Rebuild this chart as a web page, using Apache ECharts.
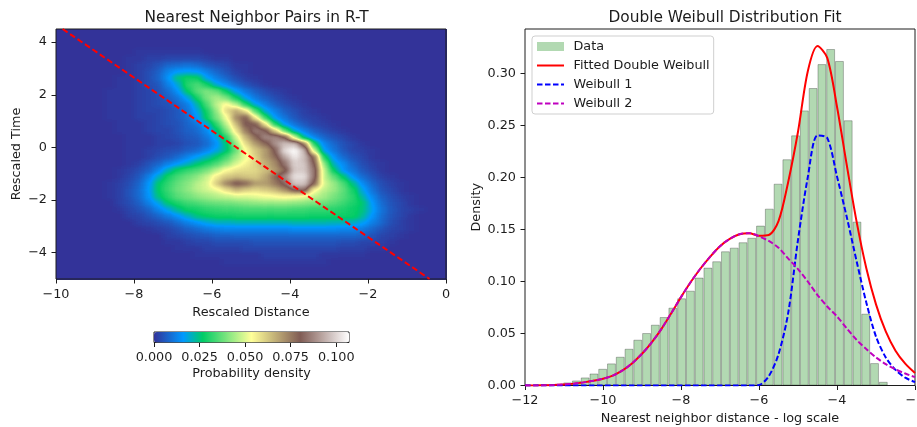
<!DOCTYPE html>
<html><head><meta charset="utf-8">
<style>
html,body{margin:0;padding:0;background:#fff;width:917px;height:427px;overflow:hidden}
#heatClip{position:absolute;left:56px;top:29px;width:391px;height:251px;overflow:hidden;z-index:1}
#heat{position:absolute;left:-14px;top:-14px;width:418px;height:278px;filter:url(#terrain)}
#main{position:absolute;left:0;top:0;width:917px;height:427px;z-index:2}
</style>
<script src="https://cdn.jsdelivr.net/npm/echarts@6/dist/echarts.min.js"></script>
</head><body>
<svg width="0" height="0" style="position:absolute">
  <filter id="terrain" color-interpolation-filters="sRGB" x="0" y="0" width="100%" height="100%">
    <feGaussianBlur stdDeviation="3.2 2.2"/>
    <feComponentTransfer>
      <feFuncR type="table" tableValues=".2 .133 .067 0 0 0 .2 .4 .6 .8 1 .9 .8 .7 .6 .5 .6 .7 .8 .9 1"/>
      <feFuncG type="table" tableValues=".2 .333 .467 .6 .7 .8 .84 .88 .92 .96 1 .872 .744 .616 .488 .36 .488 .616 .744 .872 1"/>
      <feFuncB type="table" tableValues=".6 .733 .867 1 .7 .4 .44 .48 .52 .56 .6 .546 .492 .438 .384 .33 .464 .598 .732 .866 1"/>
    </feComponentTransfer>
  </filter>
</svg>
<div id="heatClip"><div id="heat"></div></div>
<div id="main"></div>
<script>
// ---------- left panel: density (thousandths), top row first
const distanceCenters = [-9.875,-9.625,-9.375,-9.125,-8.875,-8.625,-8.375,-8.125,-7.875,-7.625,-7.375,-7.125,-6.875,-6.625,-6.375,-6.125,-5.875,-5.625,-5.375,-5.125,-4.875,-4.625,-4.375,-4.125,-3.875,-3.625,-3.375,-3.125,-2.875,-2.625,-2.375,-2.125,-1.875,-1.625,-1.375,-1.125,-0.875,-0.625,-0.375,-0.125];
const timeCenters = [4.375,4.125,3.875,3.625,3.375,3.125,2.875,2.625,2.375,2.125,1.875,1.625,1.375,1.125,0.875,0.625,0.375,0.125,-0.125,-0.375,-0.625,-0.875,-1.125,-1.375,-1.625,-1.875,-2.125,-2.375,-2.625,-2.875,-3.125,-3.375,-3.625,-3.875,-4.125,-4.375,-4.625,-4.875];
const densityRows = [
[0,0,0,0,0,0,0,0,0,0,0,0,0,0,0,0,0,0,0,0,0,0,0,0,0,0,0,0,0,0,0,0,0,0,0,0,0,0,0,0],
[0,0,0,0,0,0,0,0,0,0,0,0,0,0,0,0,0,0,0,0,0,0,0,0,0,0,0,0,0,0,0,0,0,0,0,0,0,0,0,0],
[0,0,0,0,0,0,0,0,0,0,0,0,0,0,0,0,0,0,0,0,0,0,0,0,0,0,0,0,0,0,0,0,0,0,0,0,0,0,0,0],
[0,0,0,0,0,0,0,0,1,1,1,1,1,1,1,0,0,0,0,0,0,0,0,0,0,0,0,0,0,0,0,0,0,0,0,0,0,0,0,0],
[0,0,0,0,0,0,0,1,1,2,2,3,3,3,3,2,1,1,0,0,0,0,0,0,0,0,0,0,0,0,0,0,0,0,0,0,0,0,0,0],
[0,0,0,0,0,0,0,1,2,3,5,8,9,10,9,6,4,3,1,1,0,0,0,0,0,0,0,0,0,0,0,0,0,0,0,0,0,0,0,0],
[0,0,0,0,0,0,0,1,2,4,7,13,16,17,16,12,8,5,2,1,0,0,0,0,0,0,0,0,0,0,0,0,0,0,0,0,0,0,0,0],
[0,0,0,0,0,0,1,1,2,4,8,15,25,29,28,17,12,8,4,2,1,0,0,0,0,0,0,0,0,0,0,0,0,0,0,0,0,0,0,0],
[0,0,0,0,0,0,1,1,2,4,6,12,19,31,35,29,19,14,9,5,3,1,0,0,0,0,0,0,0,0,0,0,0,0,0,0,0,0,0,0],
[0,0,0,0,0,1,1,1,2,3,5,9,15,27,36,40,37,27,17,11,7,4,2,1,0,0,0,0,0,0,0,0,0,0,0,0,0,0,0,0],
[0,0,0,0,0,1,1,1,2,3,4,7,11,18,29,40,45,40,28,17,11,7,4,2,1,0,0,0,0,0,0,0,0,0,0,0,0,0,0,0],
[0,0,0,0,0,1,1,1,2,3,4,5,8,12,22,35,47,55,46,30,18,12,7,4,2,1,0,0,0,0,0,0,0,0,0,0,0,0,0,0],
[0,0,0,0,0,1,1,1,2,3,3,4,6,10,18,29,43,60,68,58,35,19,12,7,4,2,1,0,0,0,0,0,0,0,0,0,0,0,0,0],
[0,0,0,0,0,1,1,1,2,2,3,4,6,9,16,28,40,53,73,80,56,32,16,10,6,3,2,1,0,0,0,0,0,0,0,0,0,0,0,0],
[0,0,0,0,0,0,1,1,1,2,3,4,5,8,11,19,32,47,65,82,80,58,30,16,10,6,3,2,1,0,0,0,0,0,0,0,0,0,0,0],
[0,0,0,0,0,0,1,1,1,2,3,3,5,7,9,14,25,40,58,75,86,82,62,36,19,12,7,4,2,1,0,0,0,0,0,0,0,0,0,0],
[0,0,0,0,0,0,0,1,1,1,2,3,4,6,7,11,18,31,49,66,78,88,88,80,48,22,13,8,5,3,1,0,0,0,0,0,0,0,0,0],
[0,0,0,0,0,0,0,1,1,1,2,2,3,5,6,9,15,25,43,59,70,78,90,97,97,75,30,14,9,5,3,1,0,0,0,0,0,0,0,0],
[0,0,0,0,0,0,0,1,1,2,3,4,5,7,9,13,18,25,38,54,63,70,82,102,107,95,48,17,11,6,3,2,1,0,0,0,0,0,0,0],
[0,0,0,0,0,0,0,1,1,2,4,6,9,13,17,21,27,34,44,52,61,70,78,93,104,97,78,30,15,9,5,3,1,0,0,0,0,0,0,0],
[0,0,0,0,0,0,0,1,2,5,8,12,16,20,25,30,35,42,50,56,61,67,73,85,100,98,82,42,20,14,8,4,2,1,0,0,0,0,0,0],
[0,0,0,0,0,0,1,2,4,7,13,21,28,32,35,39,46,54,58,59,60,64,70,78,98,98,85,48,27,15,10,6,3,1,0,0,0,0,0,0],
[0,0,0,0,0,0,1,3,6,12,20,29,34,38,42,48,57,63,65,63,62,68,79,88,102,102,85,48,37,26,15,9,5,2,1,0,0,0,0,0],
[0,0,0,0,0,1,2,4,8,15,26,32,37,41,46,50,62,74,82,78,70,70,76,83,98,98,80,50,43,35,24,14,8,4,2,1,0,0,0,0],
[0,0,0,0,0,1,2,5,9,16,27,33,38,42,46,49,52,59,66,62,60,62,66,72,82,84,55,47,43,37,29,18,10,5,3,1,0,0,0,0],
[0,0,0,0,0,1,2,5,9,15,25,31,36,39,42,44,46,48,50,50,51,53,54,55,54,52,48,44,40,36,31,22,13,7,4,2,1,0,0,0],
[0,0,0,0,0,0,2,4,7,12,18,26,30,33,35,37,38,39,40,41,42,43,43,43,42,41,40,38,36,33,30,26,16,9,5,3,1,0,0,0],
[0,0,0,0,0,0,1,3,5,8,13,18,24,28,29,31,32,33,33,34,34,34,34,34,33,33,32,32,31,30,28,25,17,10,6,3,2,1,0,0],
[0,0,0,0,0,0,0,2,3,5,8,11,15,20,25,27,28,28,29,29,29,29,29,29,29,29,28,28,28,28,28,23,15,9,5,3,1,0,0,0],
[0,0,0,0,0,0,0,0,2,3,4,6,9,12,15,18,20,20,21,21,21,21,21,21,22,22,22,22,21,21,20,17,12,8,4,2,1,0,0,0],
[0,0,0,0,0,0,0,0,0,1,2,3,5,7,9,11,12,13,13,13,13,13,13,13,14,14,14,14,14,13,13,11,8,5,3,2,1,0,0,0],
[0,0,0,0,0,0,0,0,0,0,0,2,3,4,5,6,7,7,8,8,8,8,8,8,8,8,8,8,8,8,8,7,5,3,2,1,0,0,0,0],
[0,0,0,0,0,0,0,0,0,0,0,1,1,2,3,3,4,4,4,4,5,5,5,5,5,5,5,5,5,4,4,3,3,2,1,0,0,0,0,0],
[0,0,0,0,0,0,0,0,0,0,0,0,1,1,1,2,2,2,2,3,3,3,3,3,3,3,3,3,3,2,2,2,1,1,0,0,0,0,0,0],
[0,0,0,0,0,0,0,0,0,0,0,0,0,0,1,1,1,1,1,1,1,2,2,2,2,2,2,1,1,1,1,1,0,0,0,0,0,0,0,0],
[0,0,0,0,0,0,0,0,0,0,0,0,0,0,0,0,0,1,1,1,1,1,1,1,1,1,1,1,0,0,0,0,0,0,0,0,0,0,0,0],
[0,0,0,0,0,0,0,0,0,0,0,0,0,0,0,0,0,0,0,0,0,0,0,0,0,0,0,0,0,0,0,0,0,0,0,0,0,0,0,0],
[0,0,0,0,0,0,0,0,0,0,0,0,0,0,0,0,0,0,0,0,0,0,0,0,0,0,0,0,0,0,0,0,0,0,0,0,0,0,0,0]
];
const referenceLine = [[-9.83,4.5],[-0.42,-5]];
const terrainStops = ['#333399','#2255bb','#1177dd','#0099ff','#00b3b3','#00cc66','#33d670','#66e07a','#99eb85','#ccf58f','#ffff99','#e6de8b','#ccbe7d','#b39d70','#997c62','#805c54','#997c76','#b39d98','#ccbebb','#e6dedd','#ffffff'];
const densityTicks = [0,0.025,0.05,0.075,0.1];
const rescaledXTicks = [-10,-8,-6,-4,-2,0];
const rescaledYTicks = [-4,-2,0,2,4];

// ---------- right panel
const binCenters = [-11.581,-11.356,-11.132,-10.907,-10.682,-10.457,-10.232,-10.008,-9.783,-9.558,-9.333,-9.108,-8.883,-8.659,-8.434,-8.209,-7.984,-7.759,-7.535,-7.31,-7.085,-6.86,-6.635,-6.41,-6.186,-5.961,-5.736,-5.511,-5.286,-5.062,-4.837,-4.612,-4.387,-4.162,-3.937,-3.713,-3.488,-3.263,-3.038,-2.813];
const binHeights = [0.0005,0.001,0.0016,0.0029,0.0048,0.0077,0.0115,0.016,0.0212,0.0276,0.0353,0.044,0.0504,0.0584,0.0658,0.0748,0.0838,0.0911,0.1037,0.1133,0.1194,0.129,0.1325,0.1377,0.142,0.1537,0.17,0.194,0.2175,0.2405,0.2645,0.286,0.309,0.3235,0.312,0.255,0.1575,0.069,0.0215,0.0035];
const curveX = [-12,-11.75,-11.5,-11.25,-11,-10.75,-10.5,-10.25,-10,-9.75,-9.5,-9.25,-9,-8.75,-8.5,-8.25,-8,-7.75,-7.5,-7.25,-7,-6.75,-6.5,-6.25,-6,-5.75,-5.5,-5.25,-5,-4.75,-4.5,-4.25,-4,-3.75,-3.5,-3.25,-3,-2.75,-2.5,-2.25,-2];
const weibull2 = [0,0,0.0002,0.0005,0.001,0.0018,0.003,0.0045,0.0065,0.0095,0.0145,0.0215,0.0305,0.0415,0.0545,0.0695,0.085,0.0995,0.1125,0.124,0.134,0.141,0.1455,0.1465,0.1435,0.139,0.1325,0.122,0.112,0.1,0.087,0.076,0.0664,0.055,0.044,0.035,0.027,0.0205,0.0155,0.0115,0.008];
const weibull1 = [0,0,0,0,0,0,0,0,0,0,0,0,0,0,0,0,0,0,0,0,0,0,0,0,0.0005,0.009,0.03,0.07,0.14,0.2,0.2405,0.238,0.201,0.162,0.12,0.08,0.047,0.027,0.015,0.0075,0.0033];
const fitted = [0,0,0.0002,0.0005,0.001,0.0018,0.003,0.0045,0.0065,0.0095,0.0145,0.0215,0.0305,0.0415,0.0545,0.0695,0.085,0.0995,0.1125,0.124,0.134,0.141,0.1455,0.1465,0.144,0.1447,0.158,0.196,0.244,0.302,0.3265,0.315,0.268,0.212,0.158,0.113,0.078,0.052,0.0335,0.021,0.012];
const logXTicks = [-12,-10,-8,-6,-4,-2];
const densityYTicks = [0,0.05,0.1,0.15,0.2,0.25,0.3];

const font = 'DejaVu Sans';
const ink = '#1c1c1c';
const tickSize = 12.8, titleSize = 15.4;
const minus = v => String(v).replace('-', '\u2212');
const zip = (xs, ys) => xs.map((x, i) => [x, ys[i]]);

// Density layer: drawn as a grey ramp by the library; the page's SVG filter maps it to the terrain colours.
const heatCells = [];
densityRows.forEach((row, r) => row.forEach((v, c) => heatCells.push([c, timeCenters.length - 1 - r, v])));
const heat = echarts.init(document.getElementById('heat'), null, {renderer:'canvas'});
heat.setOption({
  animation:false, backgroundColor:'#000',
  grid:{left:14,top:14,width:390,height:250,outerBoundsMode:'none'},
  xAxis:{type:'category',show:false,data:distanceCenters},
  yAxis:{type:'category',show:false,data:timeCenters.slice().reverse()},
  visualMap:{show:false,type:'continuous',min:0,max:107,dimension:2,inRange:{color:['#000000','#ffffff']}},
  series:[{type:'heatmap',data:heatCells,progressive:0,emphasis:{disabled:true}}]
});

function frameAxis(extra){
  return Object.assign({
    type:'value', splitLine:{show:false}, axisLine:{show:false,onZero:false},
    nameLocation:'middle',
    nameTextStyle:{fontFamily:font,fontSize:tickSize,color:ink},
    axisTick:{show:true,length:4.5,lineStyle:{color:ink,width:1}},
    axisLabel:{fontFamily:font,fontSize:tickSize,color:ink,margin:9}
  }, extra);
}
function ticks(values, fmt, base){
  const a = frameAxis(base);
  a.axisTick = Object.assign({}, a.axisTick, {customValues:values});
  a.axisLabel = Object.assign({}, a.axisLabel, {customValues:values, formatter:fmt, showMinLabel:true, showMaxLabel:true, hideOverlap:false});
  return a;
}
const hiddenMarker = {color:'transparent',borderColor:'transparent',borderWidth:0};

const main = echarts.init(document.getElementById('main'), null, {renderer:'canvas'});
main.setOption({
  animation:false,
  title:[
    {text:'Nearest Neighbor Pairs in R-T',left:251.5,top:5.5,textAlign:'center',textStyle:{fontFamily:font,fontSize:titleSize,fontWeight:'normal',color:ink}},
    {text:'Double Weibull Distribution Fit',left:720,top:5.5,textAlign:'center',textStyle:{fontFamily:font,fontSize:titleSize,fontWeight:'normal',color:ink}}
  ],
  grid:[
    {left:56,top:29,width:390,height:250,show:true,borderColor:ink,borderWidth:1,backgroundColor:'transparent',outerBoundsMode:'none'},
    {left:525,top:29,width:390,height:356.5,show:true,borderColor:ink,borderWidth:1,backgroundColor:'transparent',outerBoundsMode:'none'},
    {left:154,top:332,width:195,height:10.5,show:true,borderColor:ink,borderWidth:1,backgroundColor:'transparent',outerBoundsMode:'none'}
  ],
  xAxis:[
    ticks(rescaledXTicks, minus, {gridIndex:0,position:'bottom',min:-10,max:0,name:'Rescaled Distance',nameGap:25}),
    ticks(logXTicks, minus, {gridIndex:1,position:'bottom',min:-12,max:-2,name:'Nearest neighbor distance - log scale',nameGap:25}),
    ticks(densityTicks, v=>v.toFixed(3), {gridIndex:2,position:'bottom',min:0,max:0.107,name:'Probability density',nameGap:25})
  ],
  yAxis:[
    ticks(rescaledYTicks, minus, {gridIndex:0,position:'left',min:-5,max:4.5,name:'Rescaled Time',nameGap:33}),
    ticks(densityYTicks, v=>v.toFixed(2), {gridIndex:1,position:'left',min:0,max:0.3428,name:'Density',nameGap:42}),
    {type:'value',gridIndex:2,min:0,max:1,show:false}
  ],
  visualMap:[{
    type:'continuous',seriesIndex:[],min:0,max:107,orient:'horizontal',
    left:154,top:332,itemWidth:10.5,itemHeight:195,padding:0,calculable:false,
    showLabel:false,text:null,realtime:false,hoverLink:false,
    inRange:{color:terrainStops}
  }],
  legend:{
    left:532,top:36,orient:'vertical',padding:[4,4,4,4],itemGap:6,itemWidth:27,itemHeight:14,
    borderColor:'#cfcfcf',borderWidth:1,borderRadius:3,backgroundColor:'rgba(255,255,255,0.8)',
    textStyle:{fontFamily:font,fontSize:tickSize,color:ink,padding:[0,0,0,4.5]},
    data:[
      {name:'Data',icon:'path://M0 0h27v9h-27z',itemStyle:{borderWidth:0}},
      {name:'Fitted Double Weibull',itemStyle:hiddenMarker},
      {name:'Weibull 1',itemStyle:hiddenMarker},
      {name:'Weibull 2',itemStyle:hiddenMarker}
    ]
  },
  series:[
    {name:'Reference',type:'line',xAxisIndex:0,yAxisIndex:0,data:referenceLine,showSymbol:false,symbol:'none',clip:true,
      lineStyle:{color:'#ff0000',width:2,type:[6,3]},z:5,silent:true},
    {name:'Data',type:'bar',xAxisIndex:1,yAxisIndex:1,data:zip(binCenters,binHeights),barWidth:8.77,clip:true,
      itemStyle:{color:'rgba(0,128,0,0.3)',borderColor:'rgba(0,0,0,0.3)',borderWidth:0.9},z:2},
    {name:'Fitted Double Weibull',type:'line',xAxisIndex:1,yAxisIndex:1,data:zip(curveX,fitted),smooth:0.3,symbol:'none',
      lineStyle:{color:'#ff0000',width:2},itemStyle:{color:'#ff0000'},z:3},
    {name:'Weibull 1',type:'line',xAxisIndex:1,yAxisIndex:1,data:zip(curveX,weibull1),smooth:0.3,symbol:'none',
      lineStyle:{color:'#0000ff',width:2,type:[5.5,2.5]},itemStyle:{color:'#0000ff'},z:4},
    {name:'Weibull 2',type:'line',xAxisIndex:1,yAxisIndex:1,data:zip(curveX,weibull2),smooth:0.3,symbol:'none',
      lineStyle:{color:'#bf00bf',width:2,type:[5.5,2.5]},itemStyle:{color:'#bf00bf'},z:4}
  ]
});
</script>
</body></html>
